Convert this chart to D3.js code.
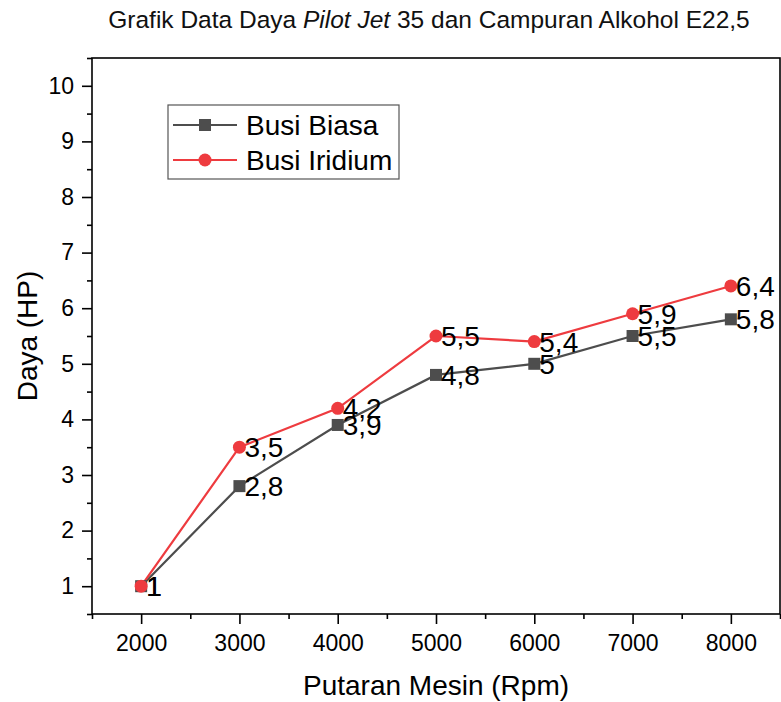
<!DOCTYPE html>
<html>
<head>
<meta charset="utf-8">
<script src="https://cdn.jsdelivr.net/npm/d3@7"></script>
<style>
  html, body { margin: 0; padding: 0; background: #fff; }
  svg { display: block; font-family: "Liberation Sans", Arial, Helvetica, sans-serif; }
</style>
</head>
<body>
<svg id="chart" width="781" height="702"></svg>
<script>
// ---- data ----
const rpm = [2000, 3000, 4000, 5000, 6000, 7000, 8000];
const busiBiasa = [1, 2.8, 3.9, 4.8, 5, 5.5, 5.8];
const busiIridium = [1, 3.5, 4.2, 5.5, 5.4, 5.9, 6.4];
const seriesNames = ["Busi Biasa", "Busi Iridium"];
const xTicks = [2000, 3000, 4000, 5000, 6000, 7000, 8000];
const xMinorTicks = [1500, 2500, 3500, 4500, 5500, 6500, 7500, 8500];
const yTicks = [1, 2, 3, 4, 5, 6, 7, 8, 9, 10];
const yMinorTicks = [0.5, 1.5, 2.5, 3.5, 4.5, 5.5, 6.5, 7.5, 8.5, 9.5, 10.5];

const colors = ["#4d4d4d", "#ee3b3f"];
const svg = d3.select("#chart");
const L = 92, R = 780, T = 58, B = 614;

const x = d3.scaleLinear().domain([1500, 8500]).range([L, R]);
const y = d3.scaleLinear().domain([0.5, 10.5]).range([B, T]);

const fmt = v => String(v).replace(".", ",");

// title
const title = svg.append("text").attr("x", 429).attr("y", 28)
  .attr("text-anchor", "middle").attr("font-size", 24.5).attr("fill", "#111");
title.append("tspan").text("Grafik Data Daya ");
title.append("tspan").attr("font-style", "italic").text("Pilot Jet");
title.append("tspan").text(" 35 dan Campuran Alkohol E22,5");

// axes
const gx = svg.append("g").attr("transform", `translate(0,${B})`)
  .call(d3.axisBottom(x).tickValues(xTicks).tickSize(10).tickPadding(11).tickFormat(d3.format("d")));
const gxm = svg.append("g").attr("transform", `translate(0,${B})`)
  .call(d3.axisBottom(x).tickValues(xMinorTicks).tickSize(5).tickFormat(""));
const gy = svg.append("g").attr("transform", `translate(${L},0)`)
  .call(d3.axisLeft(y).tickValues(yTicks).tickSize(10).tickPadding(8).tickFormat(d3.format("d")));
const gym = svg.append("g").attr("transform", `translate(${L},0)`)
  .call(d3.axisLeft(y).tickValues(yMinorTicks).tickSize(5).tickFormat(""));
[gx, gxm, gy, gym].forEach(g => {
  g.selectAll("path.domain").remove();
  g.selectAll("line").attr("stroke", "#000").attr("stroke-width", 1.6);
  g.selectAll("text").attr("font-size", 23).attr("fill", "#000")
    .style("font-family", "'Liberation Sans', Arial, sans-serif");
});

// frame
svg.append("rect").attr("x", L).attr("y", T).attr("width", R - L).attr("height", B - T)
  .attr("fill", "none").attr("stroke", "#000").attr("stroke-width", 1.6);

// axis titles
svg.append("text").attr("x", (L + R) / 2).attr("y", 695).attr("text-anchor", "middle")
  .attr("font-size", 28).attr("fill", "#000").text("Putaran Mesin (Rpm)");
svg.append("text").attr("transform", `translate(37,${(T + B) / 2}) rotate(-90)`)
  .attr("text-anchor", "middle").attr("font-size", 28).attr("fill", "#000").text("Daya (HP)");

// series
const series = [busiBiasa, busiIridium].map((vals, i) => ({
  name: seriesNames[i], color: colors[i],
  pts: rpm.map((r, j) => ({ x: r, y: vals[j] }))
}));
const line = d3.line().x(d => x(d.x)).y(d => y(d.y));

series.forEach((s, i) => {
  svg.append("path").datum(s.pts).attr("d", line)
    .attr("fill", "none").attr("stroke", s.color).attr("stroke-width", 2.2);
});
series.forEach((s, i) => {
  const g = svg.append("g");
  if (i === 0) {
    g.selectAll("rect").data(s.pts).join("rect")
      .attr("x", d => x(d.x) - 6).attr("y", d => y(d.y) - 6)
      .attr("width", 12).attr("height", 12).attr("fill", s.color);
  } else {
    g.selectAll("circle").data(s.pts).join("circle")
      .attr("cx", d => x(d.x)).attr("cy", d => y(d.y)).attr("r", 6.5).attr("fill", s.color);
  }
});
series.slice().reverse().forEach(s => {
  svg.append("g").selectAll("text").data(s.pts).join("text")
    .attr("x", d => x(d.x) + 5).attr("y", d => y(d.y)).attr("dy", "0.36em")
    .attr("font-size", 28).attr("fill", "#000").text(d => fmt(d.y));
});

// legend
const lg = svg.append("g");
lg.append("rect").attr("x", 168).attr("y", 105).attr("width", 231).attr("height", 74)
  .attr("fill", "#fff").attr("stroke", "#555").attr("stroke-width", 1.2);
series.forEach((s, i) => {
  const cy = 125 + i * 35;
  lg.append("line").attr("x1", 173).attr("x2", 237).attr("y1", cy).attr("y2", cy)
    .attr("stroke", s.color).attr("stroke-width", 2.2);
  if (i === 0) {
    lg.append("rect").attr("x", 199).attr("y", cy - 6).attr("width", 12).attr("height", 12).attr("fill", s.color);
  } else {
    lg.append("circle").attr("cx", 205).attr("cy", cy).attr("r", 6.5).attr("fill", s.color);
  }
  lg.append("text").attr("x", 246).attr("y", cy).attr("dy", "0.36em")
    .attr("font-size", 28).attr("fill", "#000").text(s.name);
});
</script>
</body>
</html>
